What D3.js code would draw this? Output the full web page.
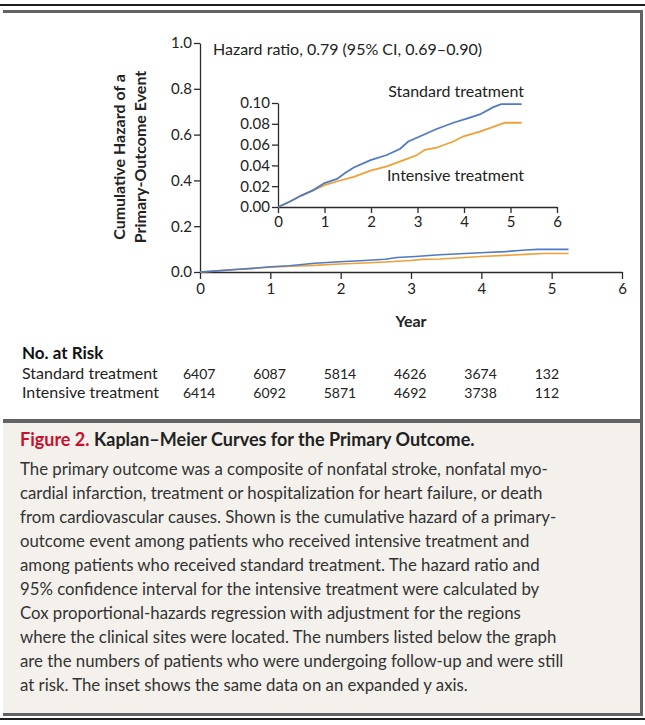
<!DOCTYPE html>
<html>
<head>
<meta charset="utf-8">
<script src="https://cdn.jsdelivr.net/npm/d3@7"></script>
<style>
  html, body { margin: 0; padding: 0; background: #fff; }
  svg { display: block; }
  text { font-family: Lato, "Open Sans", sans-serif; }
</style>
</head>
<body>
<svg id="chart" width="645" height="725"></svg>
<script>
// ---- data ----
const mainYTicks = [0.0, 0.2, 0.4, 0.6, 0.8, 1.0];
const insetYTicks = [0.00, 0.02, 0.04, 0.06, 0.08, 0.10];
const xTicks = [0, 1, 2, 3, 4, 5, 6];

const standardTime  = [0, 0.25, 0.5, 0.75, 1.0, 1.27, 1.45, 1.63, 1.99, 2.34, 2.63, 2.8, 3.06, 3.41, 3.77, 4.06, 4.34, 4.63, 4.8, 5.24];
const standardHaz   = [0, 0.005, 0.011, 0.016, 0.023, 0.027, 0.033, 0.038, 0.045, 0.050, 0.056, 0.063, 0.068, 0.075, 0.081, 0.085, 0.089, 0.096, 0.099, 0.099];
const intensiveTime = [0, 0.25, 0.5, 0.75, 1.0, 1.3, 1.63, 1.99, 2.34, 2.7, 2.99, 3.16, 3.41, 3.77, 3.99, 4.34, 4.63, 4.88, 5.24];
const intensiveHaz  = [0, 0.005, 0.011, 0.016, 0.021, 0.025, 0.029, 0.035, 0.039, 0.045, 0.050, 0.055, 0.057, 0.063, 0.068, 0.0725, 0.077, 0.081, 0.081];

const riskYears = [0, 1, 2, 3, 4, 5];
const riskStandard  = [6407, 6087, 5814, 4626, 3674, 132];
const riskIntensive = [6414, 6092, 5871, 4692, 3738, 112];

const captionTitleRed = "Figure 2.";
const captionTitle = "Kaplan\u2013Meier Curves for the Primary Outcome.";
const captionLines = [
  "The primary outcome was a composite of nonfatal stroke, nonfatal myo-",
  "cardial infarction, treatment or hospitalization for heart failure, or death",
  "from cardiovascular causes. Shown is the cumulative hazard of a primary-",
  "outcome event among patients who received intensive treatment and",
  "among patients who received standard treatment. The hazard ratio and",
  "95% confidence interval for the intensive treatment were calculated by",
  "Cox proportional-hazards regression with adjustment for the regions",
  "where the clinical sites were located. The numbers listed below the graph",
  "are the numbers of patients who were undergoing follow-up and were still",
  "at risk. The inset shows the same data on an expanded y axis."
];

// ---- drawing ----
const svg = d3.select("#chart");
const BLUE = "#5079c6", ORANGE = "#eea136", AX = "#2b2b2b", FRAME = "#636363";

// frame
svg.append("rect").attr("x", 3).attr("y", 423).attr("width", 637).attr("height", 290).attr("fill", "#f4f1ec");
svg.append("rect").attr("x", 0).attr("y", 4).attr("width", 645).attr("height", 2).attr("fill", "#1e1e1e");
svg.append("rect").attr("x", 3).attr("y", 10).attr("width", 640).attr("height", 3).attr("fill", FRAME);
svg.append("rect").attr("x", 640).attr("y", 10).attr("width", 3).attr("height", 706).attr("fill", FRAME);
svg.append("rect").attr("x", 3).attr("y", 419).attr("width", 640).attr("height", 4).attr("fill", FRAME);
svg.append("rect").attr("x", 3).attr("y", 713).attr("width", 640).attr("height", 3).attr("fill", FRAME);
svg.append("rect").attr("x", 0).attr("y", 718).attr("width", 645).attr("height", 2).attr("fill", "#1e1e1e");

const std = standardTime.map((t, i) => ({t, v: standardHaz[i]}));
const itn = intensiveTime.map((t, i) => ({t, v: intensiveHaz[i]}));

function styleAxis(g, fs) {
  g.selectAll(".domain").attr("stroke", AX).attr("stroke-width", 1.3);
  g.selectAll(".tick line").attr("stroke", AX).attr("stroke-width", 1.3);
  g.selectAll(".tick text").attr("fill", "#222").style("font-size", fs + "px")
    .style("font-family", "Lato, 'Open Sans', sans-serif");
}

// main axes
const x = d3.scaleLinear().domain([0, 6]).range([200, 622]);
const y = d3.scaleLinear().domain([0, 1]).range([272, 43]);

const gx = svg.append("g").attr("transform", `translate(0,${y(0)})`)
  .call(d3.axisBottom(x).tickValues(xTicks).tickFormat(d3.format("d")).tickSize(7).tickSizeOuter(0).tickPadding(4));
styleAxis(gx, 15);
const gy = svg.append("g").attr("transform", `translate(${x(0)},0)`)
  .call(d3.axisLeft(y).tickValues(mainYTicks).tickFormat(d3.format(".1f")).tickSize(6).tickSizeOuter(0).tickPadding(2));
styleAxis(gy, 15);

const line = d3.line().x(d => x(d.t)).y(d => y(d.v));
svg.append("path").datum(itn).attr("d", line).attr("fill", "none").attr("stroke", ORANGE).attr("stroke-width", 1.6);
svg.append("path").datum(std).attr("d", line).attr("fill", "none").attr("stroke", BLUE).attr("stroke-width", 1.6);

svg.append("text").attr("x", 213).attr("y", 55).attr("fill", "#222").style("font-size", "16px")
  .text("Hazard ratio, 0.79 (95% CI, 0.69\u20130.90)");

// y label
const yl = svg.append("text").attr("transform", "translate(0,157) rotate(-90)").attr("text-anchor", "middle")
  .attr("fill", "#222").style("font-size", "16px").style("font-weight", "bold");
yl.append("tspan").attr("x", 0).attr("y", 125).text("Cumulative Hazard of a");
yl.append("tspan").attr("x", 0).attr("y", 146).text("Primary-Outcome Event");

svg.append("text").attr("x", x(3)).attr("y", 327).attr("text-anchor", "middle").attr("fill", "#222")
  .style("font-size", "16px").style("font-weight", "bold").text("Year");

// inset
const xi = d3.scaleLinear().domain([0, 6]).range([278, 557]);
const yi = d3.scaleLinear().domain([0, 0.10]).range([207, 103]);
const gxi = svg.append("g").attr("transform", `translate(0,${yi(0)})`)
  .call(d3.axisBottom(xi).tickValues(xTicks).tickFormat(d3.format("d")).tickSize(6).tickSizeOuter(0).tickPadding(3));
styleAxis(gxi, 15);
const gyi = svg.append("g").attr("transform", `translate(${xi(0)},0)`)
  .call(d3.axisLeft(yi).tickValues(insetYTicks).tickFormat(d3.format(".2f")).tickSize(6).tickSizeOuter(0).tickPadding(2));
styleAxis(gyi, 15);
const linei = d3.line().x(d => xi(d.t)).y(d => yi(d.v));
svg.append("path").datum(itn).attr("d", linei).attr("fill", "none").attr("stroke", ORANGE).attr("stroke-width", 1.8);
svg.append("path").datum(std).attr("d", linei).attr("fill", "none").attr("stroke", BLUE).attr("stroke-width", 1.8);

svg.append("text").attr("x", 524).attr("y", 97).attr("text-anchor", "end").attr("fill", "#222")
  .style("font-size", "16px").text("Standard treatment");
svg.append("text").attr("x", 524).attr("y", 181).attr("text-anchor", "end").attr("fill", "#222")
  .style("font-size", "16px").text("Intensive treatment");

// risk table
svg.append("text").attr("x", 22).attr("y", 359).attr("fill", "#111").style("font-size", "17px")
  .style("font-weight", "bold").text("No. at Risk");
const rows = [["Standard treatment", riskStandard, 379], ["Intensive treatment", riskIntensive, 398]];
rows.forEach(([label, vals, yy]) => {
  svg.append("text").attr("x", 22).attr("y", yy).attr("fill", "#222").style("font-size", "16px").text(label);
  svg.selectAll(null).data(vals).enter().append("text")
    .attr("x", (d, i) => x(riskYears[i]) - 17).attr("y", yy).attr("fill", "#222")
    .style("font-size", "14px").text(d => d);
});

// caption
const ct = svg.append("text").attr("x", 20).attr("y", 446).style("font-size", "18px").style("font-weight", "bold");
ct.append("tspan").attr("fill", "#c8102e").text(captionTitleRed + " ");
ct.append("tspan").attr("fill", "#222").text(captionTitle);
svg.selectAll(null).data(captionLines).enter().append("text")
  .attr("x", 20).attr("y", (d, i) => 475 + i * 24).attr("fill", "#333")
  .style("font-size", "16.8px").text(d => d);
</script>
</body>
</html>
